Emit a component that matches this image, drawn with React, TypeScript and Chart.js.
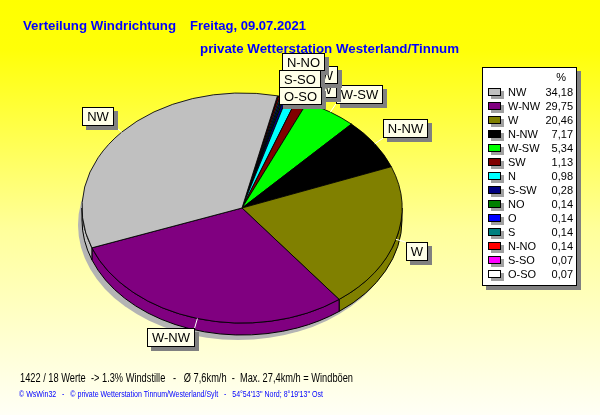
import React, { useEffect, useRef } from 'react';
import { Chart, registerables } from 'chart.js';

Chart.register(...registerables);

// ---------- data ----------
const titleMain = 'Verteilung Windrichtung';
const titleDate = 'Freitag, 09.07.2021';
const subtitle = 'private Wetterstation Westerland/Tinnum';
const summary = '1422 / 18 Werte  -> 1.3% Windstille   -   Ø 7,6km/h  -  Max. 27,4km/h = Windböen';
const credits = "© WsWin32   -   © private Wetterstation Tinnum/Westerland/Sylt   -   54°54'13'' Nord; 8°19'13'' Ost";

const directions = ['NW', 'W-NW', 'W', 'N-NW', 'W-SW', 'SW', 'N', 'S-SW', 'NO', 'O', 'S', 'N-NO', 'S-SO', 'O-SO'];
const percentages = [34.18, 29.75, 20.46, 7.17, 5.34, 1.13, 0.98, 0.28, 0.14, 0.14, 0.14, 0.14, 0.07, 0.07];
const percentLabels = ['34,18', '29,75', '20,46', '7,17', '5,34', '1,13', '0,98', '0,28', '0,14', '0,14', '0,14', '0,14', '0,07', '0,07'];
const sliceColors = ['#C0C0C0', '#800080', '#808000', '#000000', '#00FF00', '#800000', '#00FFFF', '#000080', '#008000', '#0000FF', '#008080', '#FF0000', '#FF00FF', '#FFFFFF'];

const calloutLabels = ['NW', 'W-NW', 'W', 'N-NW', 'W-SW'];
const stackedCallouts = ['O-SO', 'S-SO', 'N-NO'];
const hiddenCallouts = ['SW', 'S-SW'];
const startAngleDeg = 12.8;

// ---------- style ----------
const SANS = '"Liberation Sans", Arial, Helvetica, sans-serif';
const K = 0.719; // vertical squash of the pie (3D tilt)
const DEPTH = 12; // pie thickness in px

function fitText(ctx: CanvasRenderingContext2D, text: string, x: number, y: number, width: number) {
  const w = ctx.measureText(text).width;
  ctx.save();
  ctx.translate(x, y);
  ctx.scale(width / w, 1);
  ctx.textAlign = 'left';
  ctx.fillText(text, 0, 0);
  ctx.restore();
}

function labelBox(ctx: CanvasRenderingContext2D, x: number, y: number, w: number, h: number, text: string) {
  x = Math.round(x);
  y = Math.round(y);
  ctx.fillStyle = '#808080';
  ctx.fillRect(x + 4, y + 4, w, h);
  ctx.fillStyle = '#FFFFE8';
  ctx.fillRect(x, y, w, h);
  ctx.strokeStyle = '#000';
  ctx.lineWidth = 1;
  ctx.strokeRect(x + 0.5, y + 0.5, w - 1, h - 1);
  ctx.fillStyle = '#000';
  ctx.font = `13px ${SANS}`;
  ctx.textAlign = 'center';
  ctx.textBaseline = 'middle';
  ctx.fillText(text, x + w / 2, y + h / 2 + 1);
}

function geom(chart: any) {
  const meta = chart.getDatasetMeta(0);
  const arcs = meta.data as any[];
  const a0 = arcs[0];
  return { arcs, cx: a0.x as number, cy: a0.y as number, R: a0.outerRadius as number };
}

const tiltPlugin = {
  id: 'tilt3d',
  beforeDraw(chart: any) {
    const { ctx, width, height } = chart;
    const g = ctx.createLinearGradient(0, 0, 0, height);
    g.addColorStop(0, '#FFFF00');
    g.addColorStop(0.12, '#FFFF08');
    g.addColorStop(0.55, '#FFFF9A');
    g.addColorStop(1, '#FFFFF6');
    ctx.save();
    ctx.fillStyle = g;
    ctx.fillRect(0, 0, width, height);
    ctx.restore();
  },
  beforeDatasetsDraw(chart: any) {
    const { ctx } = chart;
    const { arcs, cx, cy, R } = geom(chart);
    const b = R * K;
    const colors = chart.data.datasets[0].backgroundColor as string[];
    ctx.save();
    // shadow
    ctx.fillStyle = '#B4B4B4';
    ctx.beginPath();
    ctx.ellipse(cx - 4, cy + DEPTH + 5, R, b, 0, 0, Math.PI * 2);
    ctx.fill();
    // side walls
    ctx.strokeStyle = '#000';
    ctx.lineWidth = 1;
    arcs.forEach((arc, i) => {
      const s = arc.startAngle, e = arc.endAngle;
      for (let n = -1; n <= 2; n++) {
        const lo = Math.max(s, n * 2 * Math.PI);
        const hi = Math.min(e, n * 2 * Math.PI + Math.PI);
        if (hi > lo) {
          ctx.beginPath();
          ctx.ellipse(cx, cy, R, b, 0, lo, hi, false);
          ctx.lineTo(cx + R * Math.cos(hi), cy + b * Math.sin(hi) + DEPTH);
          ctx.ellipse(cx, cy + DEPTH, R, b, 0, hi, lo, true);
          ctx.closePath();
          ctx.fillStyle = colors[i];
          ctx.fill();
          ctx.stroke();
        }
      }
    });
    ctx.restore();
    // squash the top face
    ctx.save();
    ctx.translate(0, cy * (1 - K));
    ctx.scale(1, K);
  },
  afterDatasetsDraw(chart: any) {
    chart.ctx.restore();
  },
  afterDraw(chart: any) {
    const { ctx } = chart;
    const { arcs, cx, cy, R } = geom(chart);
    const b = R * K;
    const labels = chart.data.labels as string[];
    ctx.save();

    // titles
    ctx.fillStyle = '#0000FF';
    ctx.font = `bold 13px ${SANS}`;
    ctx.textBaseline = 'alphabetic';
    fitText(ctx, titleMain, 23, 30, 153);
    fitText(ctx, titleDate, 190, 30, 116);
    fitText(ctx, subtitle, 200, 53, 259);

    // footer
    ctx.fillStyle = '#000';
    ctx.font = `12px ${SANS}`;
    fitText(ctx, summary, 20, 382, 333);
    ctx.fillStyle = '#0000FF';
    ctx.font = `9px ${SANS}`;
    fitText(ctx, credits, 19, 397, 304);

    // callouts
    const arcOf = (name: string) => arcs[labels.indexOf(name)];
    ctx.font = `13px ${SANS}`;
    const H = 19;
    calloutLabels.forEach((name) => {
      const arc = arcOf(name);
      const m = (arc.startAngle + arc.endAngle) / 2;
      const c = Math.cos(m), sn = Math.sin(m);
      const ex = cx + R * c, ey = cy + b * sn;
      const ax = ex + c * 10, ay = ey + sn * 10;
      ctx.font = `13px ${SANS}`;
      const w = Math.round(ctx.measureText(name).width + 10);
      const bx = c >= 0 ? ax : ax - w;
      const by = sn >= 0 ? ay : ay - H;
      ctx.strokeStyle = '#FFFFFF';
      ctx.lineWidth = 1;
      ctx.beginPath();
      ctx.moveTo(ex, ey);
      ctx.lineTo(ax, ay);
      ctx.stroke();
      labelBox(ctx, bx, by, w, H, name);
    });

    // stacked callouts for tiny slices
    const base = arcOf(stackedCallouts[0]);
    const bm = (base.startAngle + base.endAngle) / 2;
    const bex = cx + R * Math.cos(bm), bey = cy + b * Math.sin(bm);
    const colLeft = bex + 1;
    const SH = 18;
    hiddenCallouts.forEach((name, j) => {
      ctx.font = `13px ${SANS}`;
      const w = Math.round(ctx.measureText(name).width + 10);
      labelBox(ctx, colLeft + 58 - w + (j === 1 ? 1 : 0), bey - 16 - j * 14, w, SH, name);
    });
    for (let j = stackedCallouts.length - 1; j >= 0; j--) {
      const name = stackedCallouts[j];
      ctx.font = `13px ${SANS}`;
      const w = Math.round(ctx.measureText(name).width + 10);
      labelBox(ctx, colLeft + (j === 2 ? 3 : 0), bey + 9 - SH - j * 17, w, SH, name);
    }

    // legend
    const L = 482, T = 67, Rr = 577, B = 286;
    ctx.fillStyle = '#808080';
    ctx.fillRect(L + 4, T + 4, Rr - L, B - T);
    ctx.fillStyle = '#FFFFFF';
    ctx.fillRect(L, T, Rr - L, B - T);
    ctx.strokeStyle = '#000';
    ctx.strokeRect(L + 0.5, T + 0.5, Rr - L - 1, B - T - 1);
    ctx.font = `11px ${SANS}`;
    ctx.fillStyle = '#000';
    ctx.textBaseline = 'middle';
    ctx.textAlign = 'right';
    ctx.fillText('%', 566, 78);
    directions.forEach((d, i) => {
      const y = 92 + i * 14;
      ctx.fillStyle = '#A0A0A0';
      ctx.fillRect(491, y - 1, 13, 8);
      ctx.fillStyle = sliceColors[i];
      ctx.fillRect(488, y - 4, 13, 8);
      ctx.strokeStyle = '#000';
      ctx.strokeRect(488.5, y - 3.5, 12, 7);
      ctx.fillStyle = '#000';
      ctx.textAlign = 'left';
      ctx.fillText(d, 508, y + 0.5);
      ctx.textAlign = 'right';
      ctx.fillText(percentLabels[i], 573, y + 0.5);
    });
    ctx.restore();
  },
};

export default function App() {
  const ref = useRef<HTMLCanvasElement | null>(null);
  useEffect(() => {
    document.body.style.margin = '0';
    const canvas = ref.current;
    if (!canvas) return;
    const pieLabels = [...directions].reverse();
    const pieValues = [...percentages].reverse();
    const pieColors = [...sliceColors].reverse();
    const chart = new Chart(canvas, {
      type: 'pie',
      data: {
        labels: pieLabels,
        datasets: [
          {
            data: pieValues,
            backgroundColor: pieColors,
            borderColor: '#000000',
            borderWidth: 1,
          },
        ],
      },
      options: {
        responsive: false,
        animation: false,
        rotation: startAngleDeg,
        layout: { padding: { left: 81.5, right: 197.5, top: 47.5, bottom: 46.5 } },
        plugins: {
          legend: { display: false },
          tooltip: { enabled: false },
          title: { display: false },
        },
        events: [],
      },
      plugins: [tiltPlugin],
    });
    return () => chart.destroy();
  }, []);
  return <canvas ref={ref} width={600} height={415} style={{ display: 'block' }} />;
}
